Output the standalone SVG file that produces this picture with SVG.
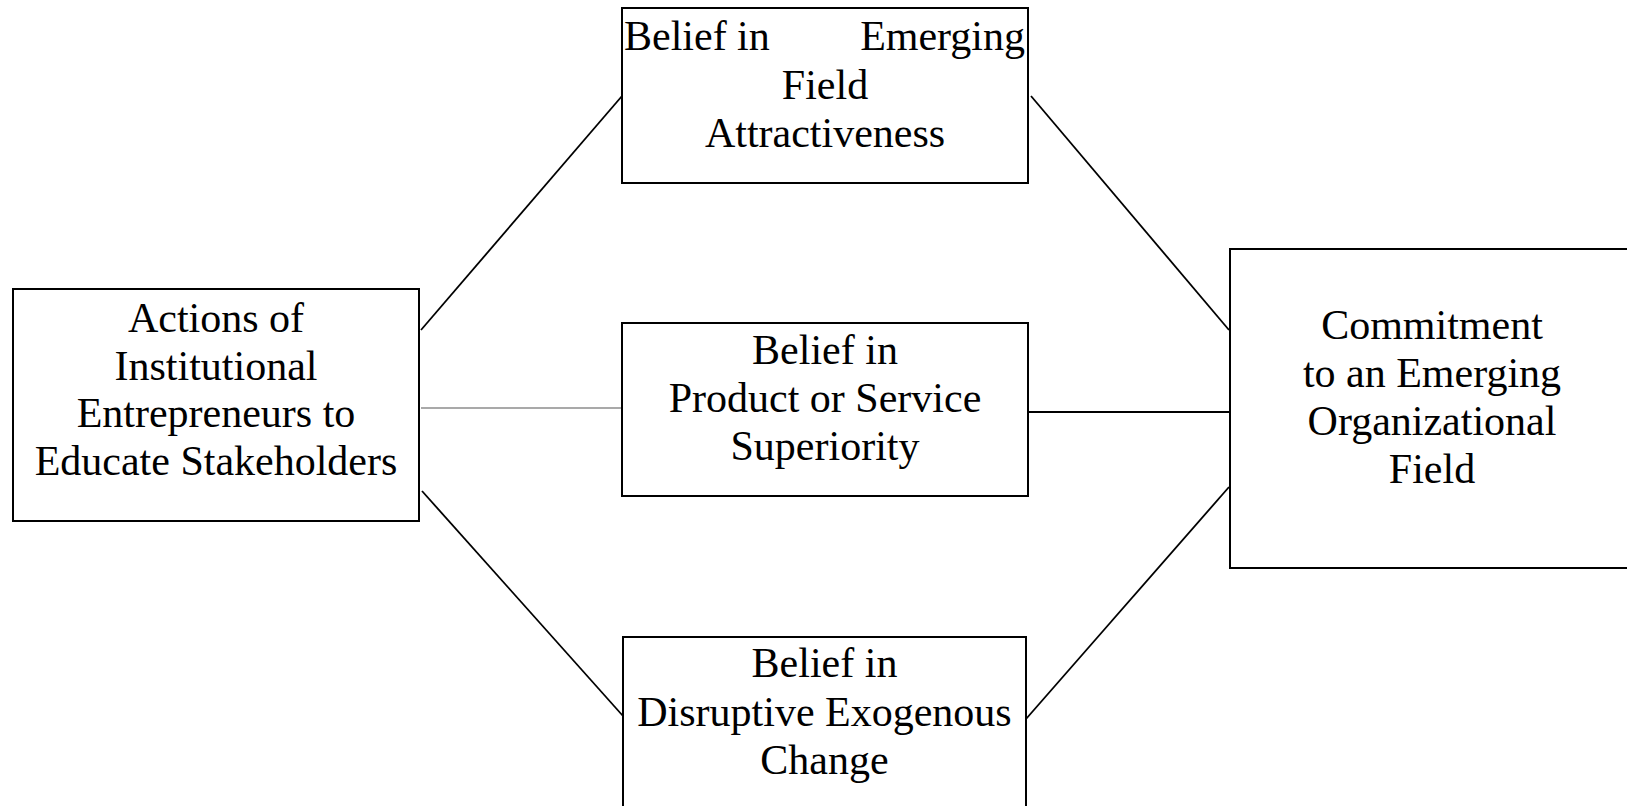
<svg xmlns="http://www.w3.org/2000/svg" width="1627" height="806" viewBox="0 0 1627 806">
  <style>
    .box { fill: #ffffff; stroke: #000000; stroke-width: 2; }
    .lbl { font-family: "Liberation Serif", "Times New Roman", serif; font-size: 42px; fill: #000000; text-anchor: middle; }
    .lbl-l { text-anchor: start; }
    .lbl-r { text-anchor: end; }
    .link { stroke: #000000; stroke-width: 1.8; fill: none; }
    .link-thin { stroke: #555555; stroke-width: 1.2; fill: none; }
  </style>
  <rect x="0" y="0" width="1627" height="806" fill="#ffffff"/>

  <!-- connectors -->
  <g id="connectors">
    <line class="link" x1="421" y1="330" x2="622" y2="96"/>
    <line class="link-thin" x1="421" y1="408" x2="622" y2="408"/>
    <line class="link" x1="422" y1="491" x2="623" y2="716"/>
    <line class="link" x1="1031" y1="96" x2="1229" y2="330"/>
    <line class="link" x1="1028" y1="412" x2="1230" y2="412"/>
    <line class="link" x1="1026" y1="719" x2="1229" y2="487"/>
  </g>

  <!-- source node -->
  <g id="node-actions">
    <rect class="box" x="13" y="289" width="406" height="232"/>
    <text class="lbl" x="216" y="332">Actions of</text>
    <text class="lbl" x="216" y="379.5">Institutional</text>
    <text class="lbl" x="216" y="427">Entrepreneurs to</text>
    <text class="lbl" x="216" y="474.5">Educate Stakeholders</text>
  </g>

  <!-- belief nodes -->
  <g id="node-attractiveness">
    <rect class="box" x="622" y="8" width="406" height="175"/>
    <text class="lbl lbl-l" x="624" y="50">Belief in</text>
    <text class="lbl lbl-r" x="1025" y="50">Emerging</text>
    <text class="lbl" x="825" y="99">Field</text>
    <text class="lbl" x="825" y="147">Attractiveness</text>
  </g>

  <g id="node-superiority">
    <rect class="box" x="622" y="323" width="406" height="173"/>
    <text class="lbl" x="825" y="364">Belief in</text>
    <text class="lbl" x="825" y="412">Product or Service</text>
    <text class="lbl" x="825" y="460">Superiority</text>
  </g>

  <g id="node-disruptive">
    <rect class="box" x="623" y="637" width="403" height="190"/>
    <text class="lbl" x="824.5" y="677">Belief in</text>
    <text class="lbl" x="824.5" y="726">Disruptive Exogenous</text>
    <text class="lbl" x="824.5" y="774">Change</text>
  </g>

  <!-- outcome node -->
  <g id="node-commitment">
    <rect class="box" x="1230" y="249" width="410" height="319"/>
    <text class="lbl" x="1432" y="339">Commitment</text>
    <text class="lbl" x="1432" y="387">to an Emerging</text>
    <text class="lbl" x="1432" y="435">Organizational</text>
    <text class="lbl" x="1432" y="483">Field</text>
  </g>
</svg>
